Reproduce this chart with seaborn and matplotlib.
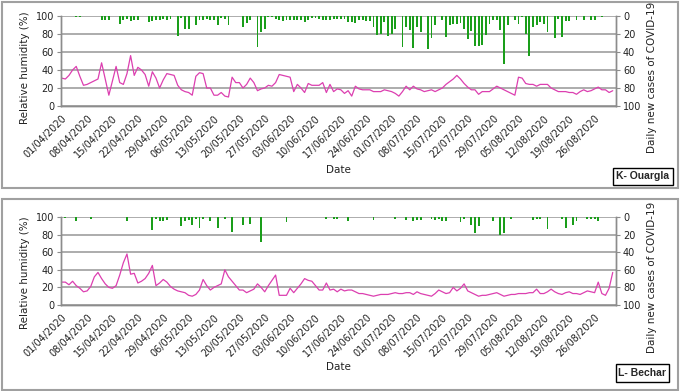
import numpy as np
import pandas as pd
import matplotlib.pyplot as plt
import seaborn as sns
from matplotlib.patches import Rectangle

# Data ########################################################################

# one value per day, 01/04/2020 .. 31/08/2020 (day 0 .. 152)
tick_labels = ["01/04/2020", "08/04/2020", "15/04/2020", "22/04/2020",
               "29/04/2020", "06/05/2020", "13/05/2020", "20/05/2020",
               "27/05/2020", "03/06/2020", "10/06/2020", "17/06/2020",
               "24/06/2020", "01/07/2020", "08/07/2020", "15/07/2020",
               "22/07/2020", "29/07/2020", "05/08/2020", "12/08/2020",
               "19/08/2020", "26/08/2020"]

ouargla_rh = [31, 30, 34, 40, 44, 33, 23, 24, 26, 28,
              30, 48, 30, 12, 28, 44, 26, 24, 36, 56,
              34, 43, 40, 35, 22, 38, 31, 20, 29, 36,
              35, 34, 23, 18, 16, 15, 12, 33, 37, 36,
              20, 20, 12, 12, 15, 11, 10, 32, 26, 26,
              20, 24, 31, 26, 17, 19, 20, 23, 22, 26,
              35, 34, 33, 32, 16, 24, 20, 15, 25, 23,
              23, 23, 26, 15, 24, 16, 19, 18, 14, 17,
              11, 22, 19, 18, 18, 18, 16, 16, 16, 18,
              17, 16, 14, 11, 16, 22, 18, 22, 19, 18,
              16, 17, 18, 16, 18, 20, 24, 27, 30, 34,
              30, 25, 21, 18, 18, 13, 16, 16, 16, 19,
              22, 20, 18, 16, 14, 12, 32, 31, 25, 24,
              24, 22, 24, 24, 24, 20, 18, 16, 16, 16,
              15, 15, 13, 16, 18, 16, 17, 19, 21, 18,
              18, 15, 17]

bechar_rh = [26, 26, 23, 27, 22, 19, 15, 16, 21, 32,
             37, 30, 24, 20, 19, 22, 34, 48, 58, 35,
             36, 25, 27, 30, 36, 45, 22, 25, 29, 26,
             21, 18, 16, 15, 14, 11, 10, 12, 17, 29,
             22, 17, 20, 22, 24, 40, 32, 27, 22, 17,
             17, 14, 16, 18, 24, 20, 15, 22, 28, 34,
             11, 11, 11, 19, 14, 19, 24, 30, 28, 27,
             22, 17, 17, 25, 17, 18, 15, 18, 16, 17,
             17, 15, 13, 13, 12, 11, 10, 11, 12, 12,
             12, 13, 14, 13, 13, 14, 14, 12, 15, 13,
             12, 11, 10, 13, 17, 15, 13, 14, 20, 16,
             19, 24, 16, 14, 12, 10, 11, 11, 12, 13,
             14, 12, 10, 11, 12, 12, 13, 13, 13, 14,
             14, 18, 13, 13, 15, 18, 15, 13, 12, 14,
             15, 13, 13, 12, 14, 16, 15, 14, 26, 13,
             11, 19, 37]

# daily new cases, only the days that had any
ouargla_case_days = [4, 5, 11, 12, 13, 16, 17, 18, 19, 20, 21, 24, 25, 26, 27, 28,
                     29, 30, 32, 33, 34, 35, 37, 38, 39, 40, 41, 42, 43, 44, 45, 46,
                     50, 51, 52, 54, 55, 56, 57, 58, 59, 60, 61, 62, 63, 64, 65, 66,
                     67, 68, 69, 70, 71, 72, 73, 74, 75, 76, 77, 78, 79, 80, 81, 82,
                     83, 84, 85, 86, 87, 88, 89, 90, 91, 92, 94, 95, 96, 97, 98, 99,
                     101, 102, 103, 105, 106, 107, 108, 109, 110, 111, 112, 113, 114,
                     115, 116, 117, 118, 119, 120, 121, 122, 123, 125, 126, 127, 128,
                     129, 130, 131, 132, 133, 134, 136, 137, 138, 139, 140, 142, 144,
                     146, 147, 149]
ouargla_cases = [1, 1, 4, 4, 4, 9, 4, 3, 6, 4, 4, 7, 6, 4, 4, 3,
                 4, 3, 22, 2, 14, 14, 10, 5, 5, 3, 5, 5, 10, 2, 3, 10,
                 12, 8, 4, 35, 18, 14, 1, 1, 3, 4, 6, 4, 4, 4, 4, 5,
                 7, 4, 2, 2, 3, 4, 4, 4, 3, 3, 3, 3, 7, 7, 8, 5,
                 5, 6, 6, 12, 21, 20, 7, 22, 20, 15, 34, 12, 16, 36, 12, 18,
                 37, 24, 10, 4, 23, 10, 9, 9, 8, 14, 26, 17, 33,
                 33, 32, 21, 9, 5, 4, 16, 53, 10, 4, 9, 1, 20,
                 44, 12, 10, 7, 9, 18, 24, 3, 23, 6, 6, 4, 4,
                 5, 4, 1]

bechar_case_days = [1, 4, 8, 18, 25, 26, 27, 28, 29, 33, 34, 35, 36, 37, 38, 39,
                    41, 43, 45, 47, 50, 52, 55, 62, 73, 75, 76, 79, 86, 92, 95, 97,
                    98, 99, 102, 103, 104, 105, 106, 110, 111, 113, 114, 115, 119,
                    121, 122, 124, 130, 131, 132, 134, 138, 139, 141, 142, 145, 146,
                    147, 148]
bechar_cases = [1, 5, 2, 4, 15, 2, 4, 5, 3, 10, 5, 3, 9, 2, 12, 2,
                4, 13, 2, 17, 9, 8, 28, 6, 2, 2, 2, 4, 3, 2, 3, 4,
                3, 3, 2, 3, 2, 5, 4, 6, 2, 9, 18, 10, 4,
                21, 18, 2, 3, 2, 2, 14, 2, 12, 9, 4, 2, 2,
                2, 4]

# Style #######################################################################

sns.set_style("white")
plt.rcParams["font.family"] = ["DejaVu Sans"]
plt.rcParams["font.size"] = 7

LINE = "#dc3fb0"
BAR = "#1a9e1a"
GRID = "#a6a6a6"
AXIS = "#8c8c8c"
W, H = 680, 391

fig = plt.figure(figsize=(W / 100, H / 100), dpi=100)


def px(x0, y0, x1, y1):
    # pixel box -> figure fraction rect
    return [x0 / W, 1 - y1 / H, (x1 - x0) / W, (y1 - y0) / H]


def panel(rect, rh, case_days, cases, name, frame, name_box, date_y,
          left_lab_y, right_lab_y):
    ax = fig.add_axes(px(*rect))
    days = np.arange(len(rh))
    df = pd.DataFrame({"day": days, "rh": rh})
    sns.lineplot(data=df, x="day", y="rh", color=LINE, lw=0.9, ax=ax)

    ax2 = ax.twinx()
    cdf = pd.DataFrame({"day": case_days, "cases": cases})
    sns.barplot(data=cdf, x="day", y="cases", native_scale=True, width=0.5,
                color=BAR, errorbar=None, linewidth=0, saturation=1, ax=ax2)

    ax.set_xlim(-0.2, 152.9)
    ax.set_ylim(0, 100)
    ax2.set_ylim(100, 0)
    ax.set_yticks(range(0, 101, 20))
    ax2.set_yticks(range(0, 101, 20))
    ax.set_xticks(range(0, 148, 7))
    ax.set_xticklabels(tick_labels, rotation=45, ha="right",
                       rotation_mode="anchor")
    ax.yaxis.grid(True, color=GRID, lw=1.3)
    ax.set_axisbelow(True)
    for a in (ax, ax2):
        a.set_xlabel("")
        a.set_ylabel("")
        a.spines["top"].set_visible(False)
        for s in ("left", "right", "bottom"):
            a.spines[s].set_color(AXIS)
            a.spines[s].set_linewidth(1)
        a.tick_params(length=3, width=0.8, color=AXIS, labelsize=7,
                      labelcolor="#222222", pad=2)

    fig.text(25 / W, 1 - left_lab_y / H, "Relative humidity (%)", rotation=90,
             ha="center", va="center", fontsize=7.5, color="#222222")
    fig.text(652 / W, 1 - right_lab_y / H, "Daily new cases of COVID-19",
             rotation=90, ha="center", va="center", fontsize=7.5,
             color="#222222")
    fig.text(338 / W, 1 - date_y / H, "Date", ha="center", va="center",
             fontsize=7.5, color="#222222")

    fx0, fy0, fx1, fy1 = frame
    fig.patches.append(Rectangle((fx0 / W, 1 - fy1 / H), (fx1 - fx0) / W,
                                 (fy1 - fy0) / H, transform=fig.transFigure,
                                 fill=False, ec="#a0a0a0", lw=1.5))
    bx0, by0, bx1, by1 = name_box
    fig.patches.append(Rectangle((bx0 / W, 1 - by1 / H), (bx1 - bx0) / W,
                                 (by1 - by0) / H, transform=fig.transFigure,
                                 fill=True, fc="white", ec="black", lw=1))
    fig.text((bx0 + bx1) / 2 / W, 1 - (by0 + by1) / 2 / H, name,
             ha="center", va="center", fontsize=7.5, weight="bold",
             family="Liberation Sans")


panel((61, 16, 616, 106), ouargla_rh, ouargla_case_days, ouargla_cases,
      "K- Ouargla", (2, 2, 678, 188), (613, 168, 673, 185), 170, 68, 77)
panel((61, 217, 616, 305), bechar_rh, bechar_case_days, bechar_cases,
      "L- Bechar", (2, 199, 678, 390), (616, 364, 669, 382), 367, 273, 277)

fig.savefig("out.png", dpi=100)
